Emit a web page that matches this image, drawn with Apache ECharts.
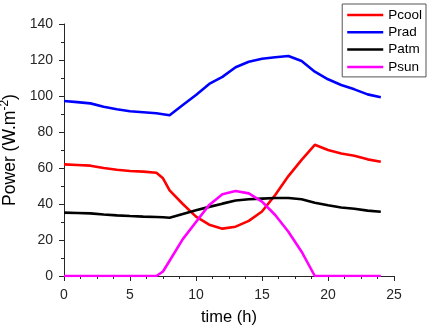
<!DOCTYPE html>
<html>
<head>
<meta charset="utf-8">
<script src="https://cdn.jsdelivr.net/npm/echarts@6/dist/echarts.min.js"></script>
<style>html,body{margin:0;padding:0;background:#fff}#c{width:436px;height:327px}</style>
</head>
<body>
<div id="c"></div>
<script>
const hours = [0,1,2,3,4,5,6,7,7.5,8,9,10,11,12,13,14,15,16,17,18,19,20,21,22,23,24];
const pcool = [62,61.7,61.3,60,59,58.3,58,57.4,54.3,47.6,40,33,28.5,26.3,27.4,30.6,35.8,45,55.5,64.5,72.9,70,68.1,66.8,64.8,63.5];
const prad  = [97.2,96.6,95.9,94,92.6,91.5,91,90.4,89.9,89.3,95,100.6,106.7,110.6,116,119,120.7,121.5,122.2,119.4,113.5,109.3,106.1,103.7,100.9,99.3];
const patm  = [35.2,35,34.8,34.2,33.7,33.3,33,32.8,32.6,32.4,34.5,36.5,38.4,40.2,41.9,42.6,43,43.3,43.3,42.6,40.7,39.3,38.1,37.4,36.3,35.7];
const psun  = [0,0,0,0,0,0,0,0,2.5,8.5,20.5,30,39.5,45.4,47.2,45.9,41.3,33.9,24.6,13.5,0,0,0,0,0,0];
const seriesNames = ['Pcool','Prad','Patm','Psun'];
const seriesColors = ['#ff0000','#0000ff','#000000','#ff00ff'];
const xTicks = [0,5,10,15,20,25];
const yTicks = [0,20,40,60,80,100,120,140];

const FONT = '"Liberation Sans", Arial, Helvetica, sans-serif';
const axisCol = '#262626';
const pair = v => hours.map((h,i)=>[h,v[i]]);
const allVals = [pcool, prad, patm, psun];

const chart = echarts.init(document.getElementById('c'), null, {renderer:'canvas'});
chart.setOption({
  animation:false,
  backgroundColor:'#fff',
  textStyle:{fontFamily:FONT},
  grid:{left:64, right:42, top:24, bottom:51, containLabel:false, outerBoundsMode:'none'},
  legend:{
    orient:'vertical', right:10, top:4,
    data: seriesNames,
    icon:'rect', itemWidth:36, itemHeight:2.5, itemGap:3.3,
    padding:[4,4,3,5],
    borderColor:'#555', borderWidth:1, backgroundColor:'#fff',
    textStyle:{fontSize:13.5, color:'#000', fontFamily:FONT}
  },
  xAxis:{
    type:'value', min:xTicks[0], max:xTicks[xTicks.length-1], interval:5,
    name:'time (h)', nameLocation:'middle', nameGap:33,
    nameTextStyle:{fontSize:16.5, color:'#000', fontFamily:FONT},
    axisLine:{show:true, lineStyle:{color:axisCol, width:1}},
    axisTick:{show:true, length:5, lineStyle:{color:axisCol}},
    minorTick:{show:true, splitNumber:4, length:3, lineStyle:{color:axisCol}},
    axisLabel:{fontSize:14, color:axisCol, margin:12, fontFamily:FONT},
    splitLine:{show:false}
  },
  yAxis:{
    type:'value', min:yTicks[0], max:yTicks[yTicks.length-1], interval:20,
    name:'Power (W.m{sup|-2})', nameLocation:'middle', nameGap:39,
    nameTextStyle:{fontSize:17.5, color:'#000', fontFamily:FONT,
      rich:{sup:{fontSize:12, color:'#000', fontFamily:FONT, verticalAlign:'bottom', padding:[0,0,10,0]}}},
    axisLine:{show:true, lineStyle:{color:axisCol, width:1}},
    axisTick:{show:true, length:5, lineStyle:{color:axisCol}},
    minorTick:{show:true, splitNumber:2, length:3, lineStyle:{color:axisCol}},
    axisLabel:{fontSize:14, color:axisCol, margin:11, fontFamily:FONT},
    splitLine:{show:false}
  },
  series: seriesNames.map((n,i)=>({
    name:n, type:'line', data:pair(allVals[i]),
    symbol:'none', smooth:false,
    lineStyle:{color:seriesColors[i], width:2.6},
    itemStyle:{color:seriesColors[i]},
    z:2+i
  }))
});
</script>
</body>
</html>
